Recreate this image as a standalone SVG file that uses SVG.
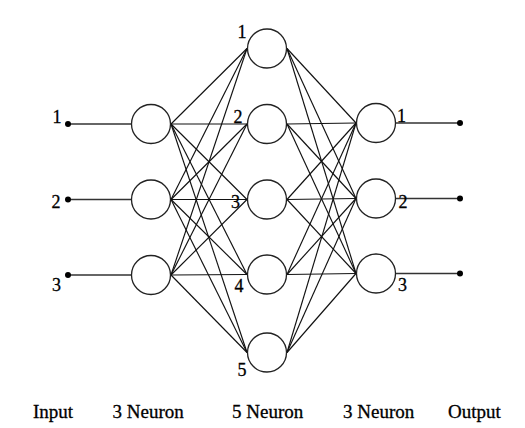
<svg xmlns="http://www.w3.org/2000/svg" width="525" height="428" viewBox="0 0 525 428">
<style>
.n{fill:#fff;stroke:#222;stroke-width:1.3}
.c line{stroke:#111;stroke-width:1.15}
.io line{stroke:#333;stroke-width:1.5}
.d{fill:#000}
text{font-family:"Liberation Serif","Times New Roman",serif;font-size:18px;fill:#000;stroke:#000;stroke-width:0.3}
.b{font-size:19px}
</style>
<rect width="525" height="428" fill="#fff"/>
<g id="connectors" class="c">
<line x1="171" y1="124" x2="247" y2="48.5"/><line x1="171" y1="124" x2="247" y2="124"/><line x1="171" y1="124" x2="247" y2="199.5"/><line x1="171" y1="124" x2="247" y2="274.5"/><line x1="171" y1="124" x2="247" y2="352.5"/>
<line x1="171" y1="199.5" x2="247" y2="48.5"/><line x1="171" y1="199.5" x2="247" y2="124"/><line x1="171" y1="199.5" x2="247" y2="199.5"/><line x1="171" y1="199.5" x2="247" y2="274.5"/><line x1="171" y1="199.5" x2="247" y2="352.5"/>
<line x1="171" y1="275" x2="247" y2="48.5"/><line x1="171" y1="275" x2="247" y2="124"/><line x1="171" y1="275" x2="247" y2="199.5"/><line x1="171" y1="275" x2="247" y2="274.5"/><line x1="171" y1="275" x2="247" y2="352.5"/>
<line x1="287" y1="48.5" x2="356" y2="123"/><line x1="287" y1="48.5" x2="356" y2="198.5"/><line x1="287" y1="48.5" x2="356" y2="273.5"/>
<line x1="287" y1="124" x2="356" y2="123"/><line x1="287" y1="124" x2="356" y2="198.5"/><line x1="287" y1="124" x2="356" y2="273.5"/>
<line x1="287" y1="199.5" x2="356" y2="123"/><line x1="287" y1="199.5" x2="356" y2="198.5"/><line x1="287" y1="199.5" x2="356" y2="273.5"/>
<line x1="287" y1="274.5" x2="356" y2="123"/><line x1="287" y1="274.5" x2="356" y2="198.5"/><line x1="287" y1="274.5" x2="356" y2="273.5"/>
<line x1="287" y1="352.5" x2="356" y2="123"/><line x1="287" y1="352.5" x2="356" y2="198.5"/><line x1="287" y1="352.5" x2="356" y2="273.5"/>
</g>
<g id="inputs" class="io">
<line x1="68" y1="124" x2="131" y2="124"/><line x1="68" y1="199.5" x2="131" y2="199.5"/><line x1="68" y1="275" x2="131" y2="275"/>
<circle class="d" cx="68" cy="124" r="3"/><circle class="d" cx="68" cy="199.5" r="3"/><circle class="d" cx="68" cy="275" r="3"/>
<text x="52.5" y="123">1</text><text x="51.5" y="208">2</text><text x="52" y="291">3</text>
</g>
<g id="outputs" class="io">
<line x1="396" y1="123" x2="460" y2="123"/><line x1="396" y1="198.5" x2="460" y2="198.5"/><line x1="396" y1="273.5" x2="460" y2="273.5"/>
<circle class="d" cx="460" cy="123" r="3"/><circle class="d" cx="460" cy="198.5" r="3"/><circle class="d" cx="460" cy="273.5" r="3"/>
</g>
<g id="in1"><circle class="n" cx="151" cy="124" r="19.5"/></g>
<g id="in2"><circle class="n" cx="151" cy="199.5" r="19.5"/></g>
<g id="in3"><circle class="n" cx="151" cy="275" r="19.5"/></g>
<g id="h1"><circle class="n" cx="267" cy="48.5" r="19.5"/><text x="237.5" y="38">1</text></g>
<g id="h2"><circle class="n" cx="267" cy="124" r="19.5"/><text x="233.5" y="123">2</text></g>
<g id="h3"><circle class="n" cx="267" cy="199.5" r="19.5"/><text x="231" y="208">3</text></g>
<g id="h4"><circle class="n" cx="267" cy="274.5" r="19.5"/><text x="234.5" y="292">4</text></g>
<g id="h5"><circle class="n" cx="267" cy="352.5" r="19.5"/><text x="237.5" y="376">5</text></g>
<g id="o1"><circle class="n" cx="376" cy="123" r="19.5"/><text x="397" y="122">1</text></g>
<g id="o2"><circle class="n" cx="376" cy="198.5" r="19.5"/><text x="398.5" y="208">2</text></g>
<g id="o3"><circle class="n" cx="376" cy="273.5" r="19.5"/><text x="398" y="291">3</text></g>
<g id="labels">
<text class="b" x="33" y="418">Input</text>
<text class="b" x="112.5" y="418">3 Neuron</text>
<text class="b" x="232" y="418">5 Neuron</text>
<text class="b" x="343" y="418">3 Neuron</text>
<text class="b" x="448" y="418">Output</text>
</g>
</svg>
